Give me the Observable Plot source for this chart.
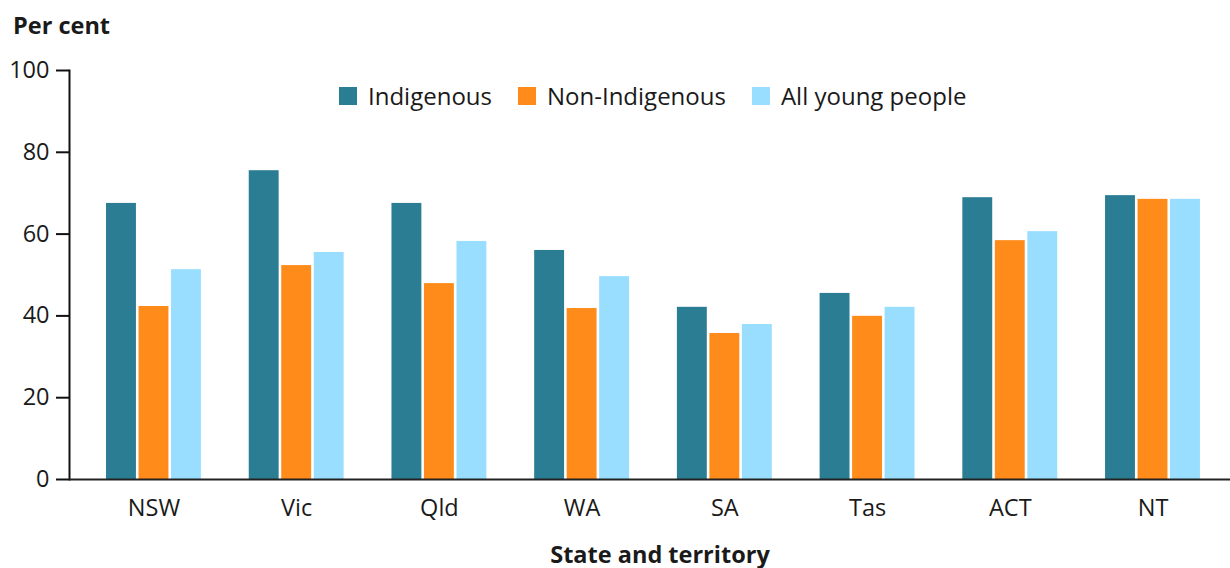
<!DOCTYPE html>
<html>
<head>
<meta charset="utf-8">
<script src="https://cdn.jsdelivr.net/npm/d3@7"></script>
<script src="https://cdn.jsdelivr.net/npm/@observablehq/plot@0.6"></script>
<style>
  html, body { margin: 0; padding: 0; background: #fff; }
  #wrap { position: relative; width: 1230px; height: 568px; font-family: "Open Sans", sans-serif; color: #1a1a1a; }
  #title { position: absolute; left: 13px; top: 9px; font-weight: bold; font-size: 23.5px; line-height: 32px; }
  #xlabel { position: absolute; left: 0; width: 1320px; top: 541px; text-align: center; font-weight: bold; font-size: 23.5px; line-height: 26px; }
  #legend { position: absolute; left: 339px; top: 80px; display: flex; align-items: center; font-size: 24px; line-height: 32px; }
  #legend .item { display: flex; align-items: center; margin-right: 26px; }
  #legend .sw { width: 18px; height: 18px; margin-right: 11px; }
  #chart { position: absolute; left: 0; top: 0; }
  #chart svg { font-family: "Open Sans", sans-serif; }
</style>
</head>
<body>
<div id="wrap">
  <div id="chart"></div>
  <div id="title">Per cent</div>
  <div id="legend"></div>
  <div id="xlabel">State and territory</div>
</div>
<script>
const states = ["NSW", "Vic", "Qld", "WA", "SA", "Tas", "ACT", "NT"];
const series = ["Indigenous", "Non-Indigenous", "All young people"];
const indigenous = [67.5, 75.5, 67.5, 56.0, 42.1, 45.5, 68.9, 69.4];
const nonIndigenous = [42.3, 52.3, 47.9, 41.8, 35.7, 39.9, 58.4, 68.5];
const allYoung = [51.3, 55.5, 58.2, 49.6, 37.9, 42.1, 60.6, 68.5];
const yTicks = [0, 20, 40, 60, 80, 100];
const colors = ["#2b7d94", "#fe8b1a", "#99defe"];

const valuesBySeries = [indigenous, nonIndigenous, allYoung];
const data = [];
states.forEach((s, i) => {
  series.forEach((k, j) => data.push({state: s, series: k, value: valuesBySeries[j][i]}));
});

const base = {
  width: 1230,
  height: 568,
  marginLeft: 69,
  marginRight: 0,
  marginTop: 70,
  marginBottom: 89,
  style: {fontSize: "23.5px", color: "#1a1a1a", background: "transparent"},
  x: {domain: states, paddingInner: 0.335, paddingOuter: 0.235, align: 0.552, round: false, label: null, tickSize: 0, tickPadding: 20},
  y: {domain: [0, 100], ticks: yTicks, tickSize: 13, tickPadding: 7, label: null},
  color: {domain: series, range: colors}
};

// Measure the band width of the state scale, then split each band into three bars.
const probe = Plot.plot({...base, marks: [Plot.barY(data, {x: "state", y: "value"})]});
const bw = probe.scale("x").bandwidth;
const innerPad = 0.08;
const step = bw / (series.length - innerPad);
const barW = step * (1 - innerPad);

const barMarks = series.map((k, j) =>
  Plot.barY(data.filter(d => d.series === k), {
    x: "state", y: "value", fill: "series",
    insetLeft: j * step,
    insetRight: bw - j * step - barW
  })
);

const chart = Plot.plot({
  ...base,
  marks: [
    ...barMarks,
    Plot.axisX({tickSize: 0, tickPadding: 20, label: null}),
    Plot.axisY({ticks: yTicks, tickSize: 13, tickPadding: 7, stroke: "#111", strokeWidth: 2, label: null}),
    Plot.frame({anchor: "left", stroke: "#111", strokeWidth: 2}),
    Plot.ruleY([0], {stroke: "#222", strokeWidth: 2})
  ]
});
document.getElementById("chart").appendChild(chart);

const legend = document.getElementById("legend");
series.forEach((k, j) => {
  const it = document.createElement("div");
  it.className = "item";
  it.innerHTML = `<span class="sw" style="background:${colors[j]}"></span><span>${k}</span>`;
  legend.appendChild(it);
});
</script>
</body>
</html>
